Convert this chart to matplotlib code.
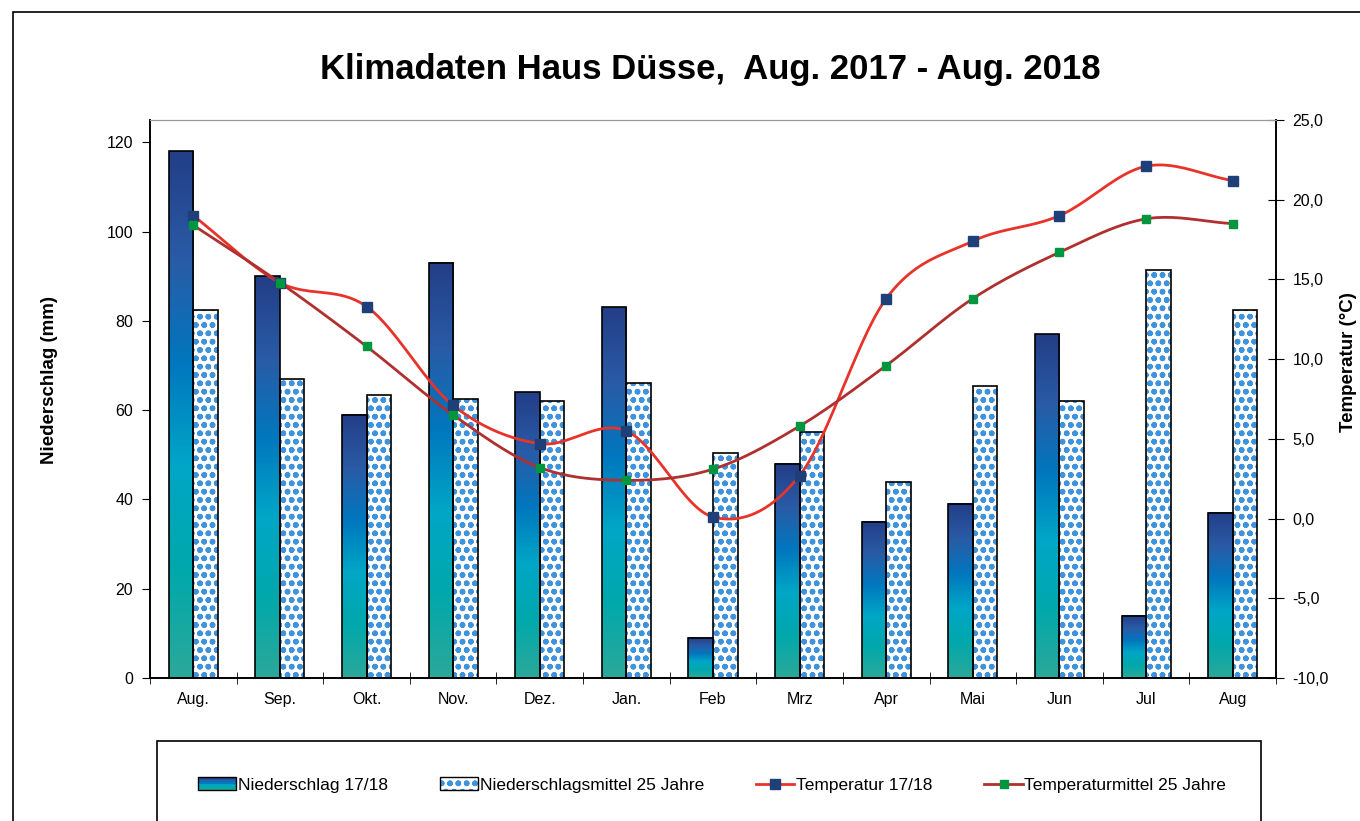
import numpy as np
import matplotlib
matplotlib.use("Agg")
from matplotlib import pyplot as plt
from matplotlib import colors
from matplotlib.patches import Rectangle
from matplotlib.legend_handler import HandlerBase
from matplotlib.lines import Line2D

plt.rcParams['font.family'] = ['Liberation Sans', 'DejaVu Sans']
plt.rcParams['hatch.linewidth'] = 1.7

# data
months = ["Aug.", "Sep.", "Okt.", "Nov.", "Dez.", "Jan.", "Feb", "Mrz", "Apr", "Mai", "Jun", "Jul", "Aug"]
rain_1718 = [118, 90, 59, 93, 64, 83, 9, 48, 35, 39, 77, 14, 37]
rain_mean25 = [82.5, 67, 63.5, 62.5, 62, 66, 50.5, 55, 44, 65.5, 62, 91.5, 82.5]
temp_1718 = [19.0, 14.8, 13.3, 7.1, 4.7, 5.5, 0.1, 2.7, 13.8, 17.4, 19.0, 22.1, 21.2]
temp_mean25 = [18.4, 14.8, 10.8, 6.5, 3.2, 2.4, 3.1, 5.8, 9.6, 13.8, 16.7, 18.8, 18.5]

grad_cmap = colors.LinearSegmentedColormap.from_list(
    "rain", ["#2AA89A", "#00A8AC", "#00A6C6", "#0077BE", "#2A5BA6", "#233F88"])
hatch_blue = "#3F93DC"
red_line = "#E8332B"
dark_red = "#B0302F"
navy = "#1F3F78"
green = "#00963F"


def smooth(xs, ys, n=24):
    # catmull-rom curve through the points (like excel's smoothed line)
    xs = np.asarray(xs, float)
    ys = np.asarray(ys, float)
    px = np.concatenate([[2 * xs[0] - xs[1]], xs, [2 * xs[-1] - xs[-2]]])
    py = np.concatenate([[2 * ys[0] - ys[1]], ys, [2 * ys[-1] - ys[-2]]])
    outx, outy = [], []
    t = np.linspace(0, 1, n)
    for i in range(1, len(px) - 2):
        for p, out in ((px, outx), (py, outy)):
            p0, p1, p2, p3 = p[i - 1], p[i], p[i + 1], p[i + 2]
            out.extend(0.5 * (2 * p1 + (-p0 + p2) * t + (2 * p0 - 5 * p1 + 4 * p2 - p3) * t ** 2
                              + (-p0 + 3 * p1 - 3 * p2 + p3) * t ** 3))
    return np.array(outx), np.array(outy)


class GradientHandler(HandlerBase):
    def create_artists(self, legend, orig_handle, xdescent, ydescent, width, height, fontsize, trans):
        arts = []
        n = 8
        for k in range(n):
            arts.append(Rectangle((-xdescent, -ydescent + height * k / n), width, height / n,
                                  facecolor=grad_cmap(k / (n - 1)), edgecolor="none", transform=trans))
        arts.append(Rectangle((-xdescent, -ydescent), width, height, facecolor="none",
                              edgecolor="black", lw=1, transform=trans))
        return arts


class HatchHandler(HandlerBase):
    def create_artists(self, legend, orig_handle, xdescent, ydescent, width, height, fontsize, trans):
        r1 = Rectangle((-xdescent, -ydescent), width, height, facecolor="white",
                       edgecolor=hatch_blue, hatch="oo", lw=0, transform=trans)
        r2 = Rectangle((-xdescent, -ydescent), width, height, facecolor="none",
                       edgecolor="black", lw=1, transform=trans)
        return [r1, r2]


fig = plt.figure(figsize=(13.6, 8.21), dpi=100)
ax = fig.add_axes([150 / 1360, 1 - 678 / 821, 1126 / 1360, 558 / 821])
ax2 = ax.twinx()

x = np.arange(len(months))
w = 0.283

for i in x:
    h = rain_1718[i]
    x0 = i - w
    grad = np.linspace(0, 1, 64).reshape(-1, 1)
    ax.imshow(grad, cmap=grad_cmap, origin="lower", aspect="auto",
              extent=[x0, x0 + w, 0, h], zorder=2, interpolation="bilinear")
ax.bar(x - w / 2, rain_1718, w, facecolor="none", edgecolor="black", lw=1.2, zorder=3)
ax.bar(x + w / 2, rain_mean25, w, facecolor="white", edgecolor=hatch_blue, hatch="oo", lw=0, zorder=2)
ax.bar(x + w / 2, rain_mean25, w, facecolor="none", edgecolor="black", lw=1.2, zorder=3)

ax.set_xlim(-0.5, len(months) - 0.5)
ax.set_ylim(0, 125)
ax.set_yticks(np.arange(0, 121, 20))
ax.set_xticks(x)
ax.set_xticklabels(months, fontsize=11.5)
ax.set_xticks(np.arange(-0.5, len(months), 1), minor=True)
ax.tick_params(axis="x", which="major", length=0, pad=10)
ax.tick_params(axis="x", which="minor", length=8, direction="inout")
ax.tick_params(axis="y", labelsize=11.5, length=6, direction="out", pad=6)
ax.set_ylabel("Niederschlag (mm)", fontsize=13.5, fontweight="bold")
ax.yaxis.set_label_coords(-0.0817, 0.534)

ax2.set_ylim(-10, 25)
ax2.set_yticks(np.arange(-10, 26, 5))
ax2.set_yticklabels([f"{v:.1f}".replace(".", ",") for v in np.arange(-10, 26, 5)])
ax2.tick_params(axis="y", labelsize=11.5, length=12, direction="inout", pad=6)
ax2.set_ylabel("Temperatur (°C)", fontsize=13.5, fontweight="bold")
ax2.yaxis.set_label_coords(1.057, 0.566)

sx, sy = smooth(x, temp_1718)
ax2.plot(sx, sy, color=red_line, lw=2, zorder=4)
ax2.plot(x, temp_1718, ls="none", marker="s", ms=7, color=navy, zorder=5)
sx, sy = smooth(x, temp_mean25)
ax2.plot(sx, sy, color=dark_red, lw=2, zorder=4)
ax2.plot(x, temp_mean25, ls="none", marker="s", ms=6, color=green, zorder=5)

for a in (ax, ax2):
    a.spines["top"].set_color("#999999")
    a.spines["top"].set_linewidth(0.8)
    a.spines["left"].set_linewidth(1.2)
    a.spines["right"].set_linewidth(1.2)
    a.spines["bottom"].set_linewidth(1.2)

fig.text(710 / 1360, 1 - 70 / 821, "Klimadaten Haus Düsse,  Aug. 2017 - Aug. 2018",
         ha="center", va="center", fontsize=25, fontweight="bold")

# outer frame and legend frame
fig.patches.append(Rectangle((13 / 1360, -0.1), 1.2, 1 - 12 / 821 + 0.1, transform=fig.transFigure,
                             facecolor="none", edgecolor="black", lw=1.2))
fig.patches.append(Rectangle((157 / 1360, -0.1), (1261 - 157) / 1360, 1 - 741 / 821 + 0.1,
                             transform=fig.transFigure, facecolor="none", edgecolor="black", lw=1.2))

h1 = Rectangle((0, 0), 1, 1)
h2 = Rectangle((0, 0), 1, 1)
h3 = Line2D([], [], color=red_line, lw=2, marker="s", ms=7, markerfacecolor=navy, markeredgecolor=navy)
h4 = Line2D([], [], color=dark_red, lw=2, marker="s", ms=6, markerfacecolor=green, markeredgecolor=green)
fig.legend([h1, h2, h3, h4],
           ["Niederschlag 17/18", "Niederschlagsmittel 25 Jahre", "Temperatur 17/18", "Temperaturmittel 25 Jahre"],
           handler_map={h1: GradientHandler(), h2: HatchHandler()},
           loc="center", bbox_to_anchor=(712 / 1360, 1 - 785 / 821), ncol=4, frameon=False,
           fontsize=12.5, handlelength=2.2, handletextpad=0.1, columnspacing=3.0, handleheight=0.8)

fig.savefig("out.png", dpi=100)
